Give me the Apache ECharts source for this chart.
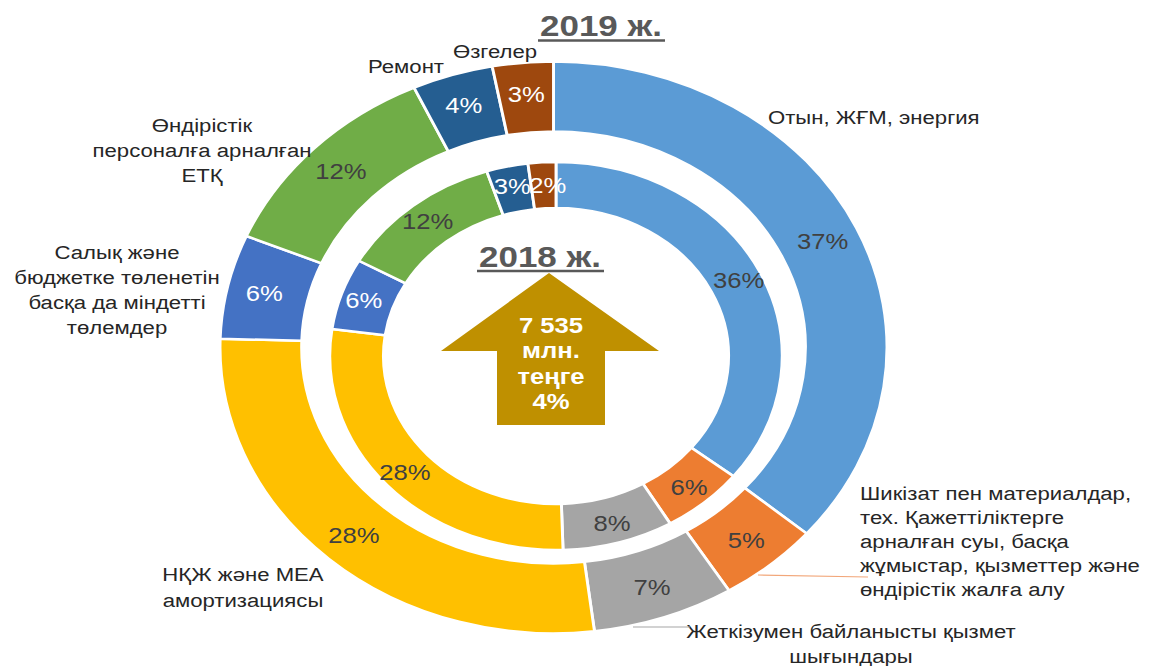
<!DOCTYPE html>
<html>
<head>
<meta charset="utf-8">
<script src="https://cdn.jsdelivr.net/npm/echarts@6/dist/echarts.min.js"></script>
<style>
html,body{margin:0;padding:0;background:#fff;overflow:hidden;}
#wrap{width:1158px;height:666px;overflow:hidden;position:relative;}
#c{height:666px;transform-origin:0 0;}
</style>
</head>
<body>
<div id="wrap"><div id="c"></div></div>
<script>
// ---- data ----
const categories = [
  'Отын, ЖҒМ, энергия',
  'Шикізат пен материалдар,\nтех. Қажеттіліктерге\nарналған суы, басқа\nжұмыстар, қызметтер және\nөндірістік жалға алу',
  'Жеткізумен байланысты қызмет\nшығындары',
  'НҚЖ және МЕА\nамортизациясы',
  'Салық және\nбюджетке төленетін\nбасқа да міндетті\nтөлемдер',
  'Өндірістік\nперсоналға арналған\nЕТҚ',
  'Ремонт',
  'Өзгелер'
];
const values2019 = [37, 5, 7, 28, 6, 12, 4, 3];
const values2018 = [36, 6, 8, 28, 6, 12, 3, 2];
const title2019 = '2019 ж.';
const title2018 = '2018 ж.';
const centerText = '7 535\nмлн.\nтеңге\n4%';

// ---- styles / layout ----
const K = 1.166; // horizontal stretch of the original picture
const colors = ['#5B9BD5', '#ED7D31', '#A5A5A5', '#FFC000', '#4472C4', '#70AD47', '#255E91', '#9E480E'];
const pctColors = ['#404040', '#404040', '#404040', '#404040', '#ffffff', '#404040', '#ffffff', '#ffffff'];
const FONT = '"Liberation Sans", "DejaVu Sans", sans-serif';
const P = x => x / K;

// name label placement (page coordinates)
const nameLayout = [
  {x: 768, y: 117, align: 'left'},
  {x: 860, y: 541, align: 'left', lh: 24},
  {x: 851, y: 644, align: 'center', lh: 25},
  {x: 243, y: 587, align: 'center', lh: 26},
  {x: 117, y: 290, align: 'center', lh: 25},
  {x: 202, y: 150, align: 'center', lh: 25},
  {x: 368, y: 66, align: 'left'},
  {x: 453, y: 51, align: 'left'}
];

const el = document.getElementById('c');
el.style.width = (1158 / K) + 'px';
el.style.transform = 'scaleX(' + K + ')';
const chart = echarts.init(el, null, {renderer: 'svg'});

function mkData(vals) {
  return vals.map((v, i) => ({
    name: categories[i],
    value: v,
    itemStyle: {color: colors[i]},
    label: {color: pctColors[i], position: 'inside'}
  }));
}

const pieCommon = {
  type: 'pie',
  startAngle: 90,
  clockwise: true,
  silent: true,
  avoidLabelOverlap: false,
  itemStyle: {borderColor: '#ffffff', borderWidth: 2.5},
  label: {
    show: true,
    position: 'inside',
    formatter: '{c}%',
    fontFamily: FONT,
    fontSize: 22
  },
  labelLine: {show: false},
  emphasis: {disabled: true},
  animation: false
};

const graphics = [];
nameLayout.forEach((p, i) => {
  graphics.push({
    type: 'text',
    x: P(p.x), y: p.y,
    style: {
      text: categories[i],
      fill: '#262626',
      fontFamily: FONT,
      fontSize: 19,
      lineHeight: p.lh || 24,
      align: p.align, textAlign: p.align,
      verticalAlign: 'middle', textVerticalAlign: 'middle'
    },
    z: 10
  });
});
// leader lines
graphics.push({type: 'line', shape: {x1: P(758), y1: 575, x2: P(868), y2: 577},
  style: {stroke: '#F2A77A', lineWidth: 1.2}, z: 10});
graphics.push({type: 'line', shape: {x1: P(633), y1: 627, x2: P(690), y2: 627},
  style: {stroke: '#A6A6A6', lineWidth: 1.2}, z: 10});
// titles
graphics.push({type: 'text', x: P(601), y: 26, style: {
  text: title2019, fill: '#595959', fontFamily: FONT, fontWeight: 'bold', fontSize: 30,
  align: 'center', textAlign: 'center', verticalAlign: 'middle', textVerticalAlign: 'middle'}, z: 10});
graphics.push({type: 'line', shape: {x1: P(538), y1: 40.5, x2: P(665), y2: 40.5},
  style: {stroke: '#595959', lineWidth: 2.5}, z: 10});
graphics.push({type: 'text', x: P(540), y: 257, style: {
  text: title2018, fill: '#595959', fontFamily: FONT, fontWeight: 'bold', fontSize: 30,
  align: 'center', textAlign: 'center', verticalAlign: 'middle', textVerticalAlign: 'middle'}, z: 10});
graphics.push({type: 'line', shape: {x1: P(477), y1: 271, x2: P(604), y2: 271},
  style: {stroke: '#595959', lineWidth: 2.5}, z: 10});
// arrow
graphics.push({type: 'polygon', shape: {points: [
  [P(549), 273], [P(659), 351], [P(605), 351], [P(605), 425],
  [P(497), 425], [P(497), 351], [P(441), 351]
]}, style: {fill: '#BF9000'}, z: 9});
graphics.push({type: 'text', x: P(551), y: 363, style: {
  text: centerText, fill: '#ffffff', fontFamily: FONT, fontWeight: 'bold', fontSize: 22,
  lineHeight: 25.5,
  align: 'center', textAlign: 'center', verticalAlign: 'middle', textVerticalAlign: 'middle'}, z: 11});

const data2018 = mkData(values2018);
// the smallest slice's label is placed from its sector's box so it is not dropped
data2018[7].label.position = 'outside';

chart.setOption({
  backgroundColor: '#ffffff',
  animation: false,
  series: [
    Object.assign({}, pieCommon, {
      name: '2019',
      center: [P(553.5), 347.5],
      radius: [216, 286],
      data: mkData(values2019)
    }),
    Object.assign({}, pieCommon, {
      name: '2018',
      center: [P(556), 356],
      radius: [148, 194],
      data: data2018,
      labelLayout: function (params) {
        if (params.dataIndex === 7) {
          const r = params.rect;
          return {
            x: r.x + r.width / 2 + 5,
            y: r.y + r.height / 2,
            align: 'center',
            verticalAlign: 'middle'
          };
        }
        return {};
      }
    })
  ],
  graphic: graphics
});
</script>
</body>
</html>
